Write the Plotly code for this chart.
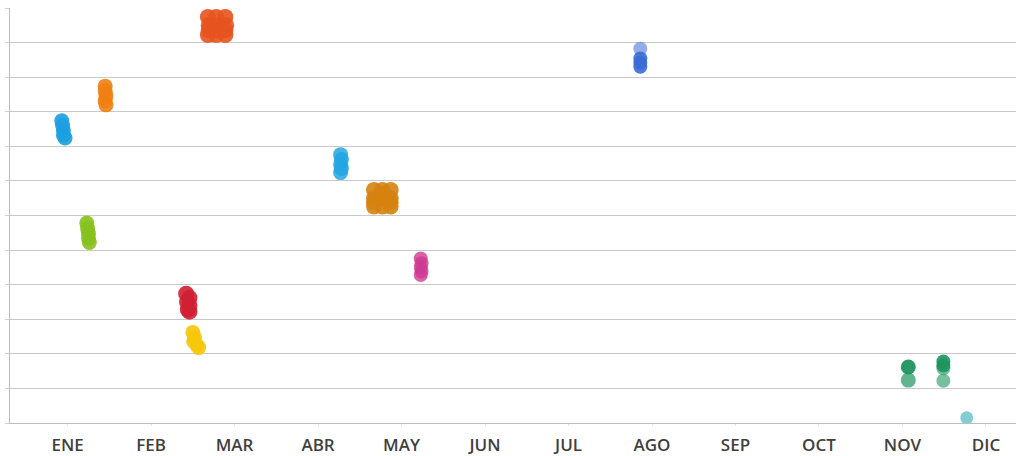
import plotly.graph_objects as go

months = ["ENE", "FEB", "MAR", "ABR", "MAY", "JUN", "JUL", "AGO", "SEP", "OCT", "NOV", "DIC"]

# Each group: month position (fractional), value and opacity of every stacked point
ene_azul_x = [-0.07, -0.06, -0.05, -0.05, -0.03]
ene_azul_y = [8.74, 8.60, 8.46, 8.32, 8.24]
ene_azul_op = [0.9, 0.9, 0.9, 0.9, 0.9]
ene_naranja_x = [0.45, 0.45, 0.46, 0.45, 0.46]
ene_naranja_y = [9.74, 9.60, 9.46, 9.32, 9.20]
ene_naranja_op = [0.9, 0.9, 0.9, 0.9, 0.9]
mar_rojo_x = [1.68, 1.69, 1.68, 1.78, 1.79, 1.78, 1.89, 1.90, 1.89, 1.69, 1.79, 1.89]
mar_rojo_y = [11.74, 11.50, 11.22, 11.74, 11.50, 11.22, 11.74, 11.50, 11.22, 11.36, 11.36, 11.36]
mar_rojo_op = [0.9] * 12
ene_verde_x = [0.23, 0.24, 0.25, 0.25, 0.26]
ene_verde_y = [5.78, 5.62, 5.48, 5.34, 5.22]
ene_verde_op = [0.9, 0.9, 0.9, 0.9, 0.9]
feb_rojo_x = [1.42, 1.46, 1.43, 1.46, 1.44, 1.46]
feb_rojo_y = [3.74, 3.62, 3.50, 3.40, 3.28, 3.22]
feb_rojo_op = [0.9] * 6
feb_amarillo_x = [1.50, 1.52, 1.51, 1.55, 1.57]
feb_amarillo_y = [2.62, 2.48, 2.36, 2.24, 2.18]
feb_amarillo_op = [0.9] * 5
abr_celeste_x = [3.27, 3.28, 3.27, 3.28, 3.27]
abr_celeste_y = [7.76, 7.62, 7.48, 7.36, 7.24]
abr_celeste_op = [0.85] * 5
may_ocre_x = [3.67, 3.67, 3.67, 3.77, 3.77, 3.77, 3.87, 3.87, 3.87, 3.67, 3.77, 3.87]
may_ocre_y = [6.74, 6.50, 6.26, 6.74, 6.50, 6.26, 6.74, 6.50, 6.26, 6.38, 6.62, 6.38]
may_ocre_op = [0.9] * 12
may_magenta_x = [4.23, 4.24, 4.23, 4.24, 4.23]
may_magenta_y = [4.76, 4.62, 4.50, 4.38, 4.28]
may_magenta_op = [0.8] * 5
ago_azul_x = [6.86, 6.86, 6.86, 6.86]
ago_azul_y = [10.82, 10.54, 10.42, 10.30]
ago_azul_op = [0.55, 0.9, 0.9, 0.9]
nov_verde_x = [10.07, 10.07]
nov_verde_y = [1.62, 1.24]
nov_verde_op = [0.95, 0.7]
nov2_verde_x = [10.49, 10.49, 10.49, 10.49]
nov2_verde_y = [1.78, 1.66, 1.58, 1.22]
nov2_verde_op = [0.9, 0.9, 0.6, 0.6]
dic_turquesa_x = [10.77]
dic_turquesa_y = [0.15]
dic_turquesa_op = [0.85]

groups = [
    (ene_azul_x, ene_azul_y, ene_azul_op, "#1c9fe0", 15),
    (ene_naranja_x, ene_naranja_y, ene_naranja_op, "#f07f12", 15),
    (mar_rojo_x, mar_rojo_y, mar_rojo_op, "#e7531f", 16),
    (ene_verde_x, ene_verde_y, ene_verde_op, "#86c11e", 15),
    (feb_rojo_x, feb_rojo_y, feb_rojo_op, "#d01f33", 16),
    (feb_amarillo_x, feb_amarillo_y, feb_amarillo_op, "#f6c70a", 15),
    (abr_celeste_x, abr_celeste_y, abr_celeste_op, "#23a6e2", 15),
    (may_ocre_x, may_ocre_y, may_ocre_op, "#d5820f", 16),
    (may_magenta_x, may_magenta_y, may_magenta_op, "#ce3a92", 14),
    (ago_azul_x, ago_azul_y, ago_azul_op, "#3a6ad6", 14),
    (nov_verde_x, nov_verde_y, nov_verde_op, "#1e9460", 15),
    (nov2_verde_x, nov2_verde_y, nov2_verde_op, "#1e9460", 14),
    (dic_turquesa_x, dic_turquesa_y, dic_turquesa_op, "#6cc3cc", 13),
]

fig = go.Figure()
for gx, gy, gop, color, sz in groups:
    fig.add_trace(go.Scatter(
        x=gx, y=gy, mode="markers",
        marker=dict(size=sz, color=color, opacity=gop, line=dict(width=0)),
        showlegend=False, hoverinfo="skip",
    ))

fig.update_layout(
    width=1016, height=456,
    margin=dict(l=10, r=0, t=8, b=33),
    plot_bgcolor="white", paper_bgcolor="white",
)
fig.update_xaxes(
    range=[-0.69, 11.36],
    tickvals=list(range(len(months))), ticktext=months,
    tickfont=dict(family="Open Sans", size=17, color="#3f3f3f", weight=600),
    showgrid=False, zeroline=False,
    showline=True, linecolor="#bdbdbd", linewidth=1,
    ticks="outside", ticklen=2, tickcolor="#e6e6e6",
    ticklabelstandoff=5,
)
fig.update_yaxes(
    range=[0, 12], dtick=1,
    showticklabels=False,
    showgrid=True, gridcolor="#c9c9c9", gridwidth=1,
    zeroline=False,
    showline=True, linecolor="#bdbdbd", linewidth=1,
    ticks="outside", ticklen=4, tickcolor="#d2d2d2",
)

fig.write_html("out.html")
